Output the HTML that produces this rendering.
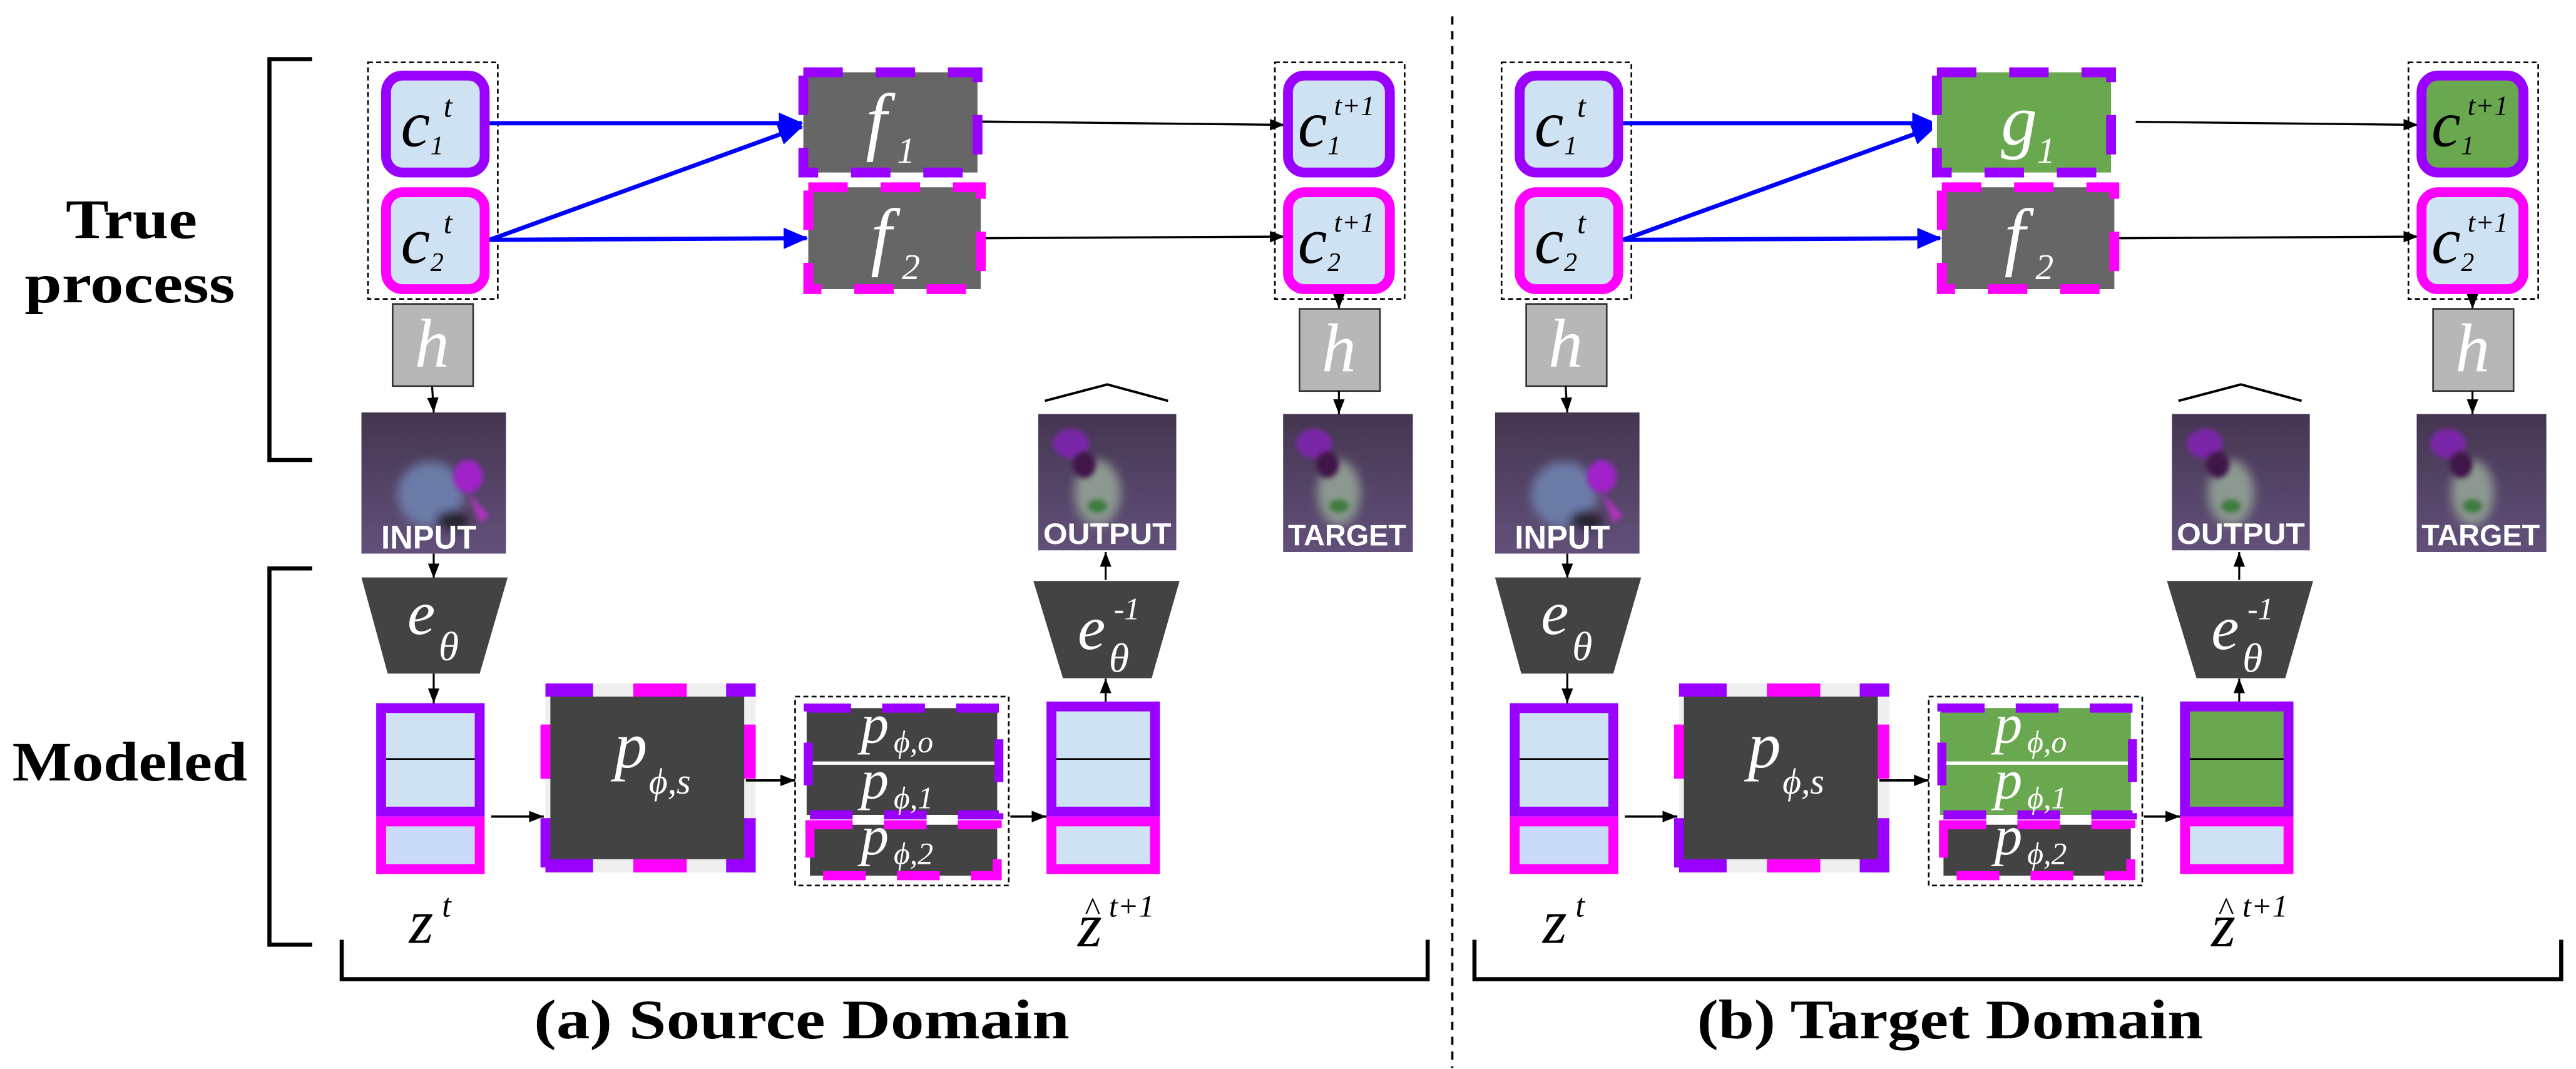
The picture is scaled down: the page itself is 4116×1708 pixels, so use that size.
<!DOCTYPE html>
<html><head><meta charset="utf-8"><style>
html,body{margin:0;padding:0;background:#fff}
svg{display:block}
.it{font-family:"Liberation Serif",serif;font-style:italic}
.bd{font-family:"Liberation Serif",serif;font-weight:bold}
.lb{font-family:"Liberation Sans",sans-serif;font-weight:bold;fill:#fff}
</style></head><body>
<svg width="4116" height="1708" viewBox="0 0 1568 650.67" preserveAspectRatio="none" xmlns="http://www.w3.org/2000/svg">
<defs>
<marker id="bh" markerUnits="userSpaceOnUse" markerWidth="15" markerHeight="13" refX="14" refY="6.5" orient="auto"><path d="M0,0 L15,6.5 L0,13 z" fill="#0000ff"/></marker>
<marker id="kh" markerUnits="userSpaceOnUse" markerWidth="9" markerHeight="7" refX="9" refY="3.5" orient="auto"><path d="M0,0 L9,3.5 L0,7 z" fill="#000"/></marker>
<filter id="bl" x="-50%" y="-50%" width="200%" height="200%"><feGaussianBlur stdDeviation="3"/></filter>
<filter id="bl2" x="-50%" y="-50%" width="200%" height="200%"><feGaussianBlur stdDeviation="1.5"/></filter>
<linearGradient id="bg" x1="0" y1="0" x2="0" y2="1"><stop offset="0" stop-color="#443650"/><stop offset="1" stop-color="#62507a"/></linearGradient>
<clipPath id="ci"><rect x="220" y="251" width="88" height="86"/></clipPath>
<clipPath id="co"><rect x="632" y="252" width="84" height="83"/></clipPath>
<clipPath id="ct"><rect x="781" y="252" width="79" height="84"/></clipPath>
</defs>

<g id="P">
<!-- c dashed box left -->
<rect x="224" y="38" width="79" height="144" fill="none" stroke="#000" stroke-width="1" stroke-dasharray="3 2"/>
<rect x="235" y="46" width="60" height="59" rx="10" fill="#cfe2f3" stroke="#9900ff" stroke-width="6"/>
<rect x="235" y="117" width="60" height="59" rx="10" fill="#cfe2f3" stroke="#ff00ff" stroke-width="6"/>
<text class="it" x="244" y="89" font-size="40">c</text><text class="it" x="262" y="94" font-size="16">1</text><text class="it" x="270" y="71" font-size="19">t</text>
<text class="it" x="244" y="160" font-size="40">c</text><text class="it" x="262" y="165" font-size="16">2</text><text class="it" x="270" y="142" font-size="19">t</text>

<!-- f boxes -->
<rect x="489" y="44" width="106" height="61" fill="#666666"/>
<rect x="489" y="44" width="106" height="61" fill="none" stroke="#9900ff" stroke-width="6" stroke-dasharray="24 20"/>
<text class="it" x="527" y="89" font-size="46" fill="#fff">f</text><text class="it" x="546" y="99" font-size="22" fill="#fff">1</text>
<rect x="492" y="114" width="105" height="62" fill="#666666"/>
<rect x="492" y="114" width="105" height="62" fill="none" stroke="#ff00ff" stroke-width="6" stroke-dasharray="24 20"/>
<text class="it" x="530" y="159" font-size="46" fill="#fff">f</text><text class="it" x="549" y="170" font-size="22" fill="#fff">2</text>

<!-- blue arrows -->
<line x1="298" y1="75" x2="488" y2="75" stroke="#0000ff" stroke-width="2.6" marker-end="url(#bh)"/>
<line x1="298" y1="146" x2="488" y2="77" stroke="#0000ff" stroke-width="2.6" marker-end="url(#bh)"/>
<line x1="298" y1="146" x2="491" y2="145" stroke="#0000ff" stroke-width="2.6" marker-end="url(#bh)"/>
<!-- black arrows -->
<line x1="598" y1="74" x2="782" y2="76" stroke="#000" stroke-width="1.3" marker-end="url(#kh)"/>
<line x1="600" y1="145" x2="782" y2="144" stroke="#000" stroke-width="1.3" marker-end="url(#kh)"/>

<!-- right c box -->
<rect x="776" y="38" width="79" height="144" fill="none" stroke="#000" stroke-width="1" stroke-dasharray="3 2"/>
<rect x="784" y="46" width="62" height="59" rx="10" fill="#cfe2f3" stroke="#9900ff" stroke-width="6"/>
<rect x="784" y="117" width="62" height="59" rx="10" fill="#cfe2f3" stroke="#ff00ff" stroke-width="6"/>
<text class="it" x="790" y="89" font-size="40">c</text><text class="it" x="808" y="94" font-size="16">1</text><text class="it" x="812" y="70" font-size="17">t+1</text>
<text class="it" x="790" y="160" font-size="40">c</text><text class="it" x="808" y="165" font-size="16">2</text><text class="it" x="812" y="141" font-size="17">t+1</text>

<!-- h boxes -->
<rect x="239" y="185" width="49" height="50" fill="#b7b7b7" stroke="#333" stroke-width="1"/>
<text class="it" x="263" y="223" font-size="42" fill="#fff" text-anchor="middle">h</text>
<line x1="263" y1="235" x2="264" y2="251" stroke="#000" stroke-width="1.2" marker-end="url(#kh)"/>
<line x1="815" y1="180" x2="815" y2="188" stroke="#000" stroke-width="1.2" marker-end="url(#kh)"/>
<rect x="791" y="188" width="49" height="50" fill="#b7b7b7" stroke="#333" stroke-width="1"/>
<text class="it" x="815" y="226" font-size="42" fill="#fff" text-anchor="middle">h</text>
<line x1="815" y1="238" x2="815" y2="252" stroke="#000" stroke-width="1.2" marker-end="url(#kh)"/>

<!-- input image -->
<g clip-path="url(#ci)">
<rect x="220" y="251" width="88" height="86" fill="url(#bg)"/>
<ellipse cx="262" cy="301" rx="20" ry="20" fill="#6c7ca8" filter="url(#bl)"/>
<ellipse cx="276" cy="317" rx="10" ry="5" fill="#221a2a" filter="url(#bl)"/>
<ellipse cx="285" cy="290" rx="9" ry="10" fill="#a020c8" filter="url(#bl2)"/>
<path d="M285,300 L298,314 L292,318 Z" fill="#b030c0" filter="url(#bl2)"/>
</g>
<text class="lb" x="261" y="334" font-size="20" text-anchor="middle" textLength="58" lengthAdjust="spacingAndGlyphs">INPUT</text>

<!-- output image -->
<g clip-path="url(#co)">
<rect x="632" y="252" width="84" height="83" fill="url(#bg)"/>
<ellipse cx="668" cy="300" rx="14" ry="20" fill="#8c9890" filter="url(#bl)"/>
<ellipse cx="668" cy="308" rx="6" ry="4" fill="#3d7a3d" filter="url(#bl2)"/>
<ellipse cx="652" cy="270" rx="11" ry="9" fill="#7a28a8" filter="url(#bl2)"/>
<ellipse cx="660" cy="283" rx="7" ry="8" fill="#40184a" filter="url(#bl2)"/>
</g>
<text class="lb" x="674" y="331" font-size="18" text-anchor="middle" textLength="78" lengthAdjust="spacingAndGlyphs">OUTPUT</text>
<polyline points="636,244 674,234 711,244" fill="none" stroke="#000" stroke-width="1.5"/>

<!-- target image -->
<g clip-path="url(#ct)">
<rect x="781" y="252" width="79" height="84" fill="url(#bg)"/>
<ellipse cx="815" cy="300" rx="13" ry="20" fill="#8c9890" filter="url(#bl)"/>
<ellipse cx="815" cy="308" rx="6" ry="4" fill="#3d7a3d" filter="url(#bl2)"/>
<ellipse cx="800" cy="270" rx="11" ry="9" fill="#7a28a8" filter="url(#bl2)"/>
<ellipse cx="808" cy="283" rx="7" ry="8" fill="#40184a" filter="url(#bl2)"/>
</g>
<text class="lb" x="820" y="332" font-size="18" text-anchor="middle" textLength="72" lengthAdjust="spacingAndGlyphs">TARGET</text>

<!-- encoder -->
<line x1="264" y1="337" x2="264" y2="352" stroke="#000" stroke-width="1.2" marker-end="url(#kh)"/>
<polygon points="220,351.5 309,351.5 292,410 236,410" fill="#434343"/>
<text class="it" x="248" y="386" font-size="38" fill="#fff">e</text><text class="it" x="267" y="402" font-size="25" fill="#fff">θ</text>
<line x1="264" y1="410" x2="264" y2="428" stroke="#000" stroke-width="1.2" marker-end="url(#kh)"/>

<!-- z box -->
<rect x="232" y="431" width="60" height="63" fill="#cfe2f3" stroke="#9900ff" stroke-width="6"/>
<line x1="235" y1="462" x2="289" y2="462" stroke="#000" stroke-width="1"/>
<rect x="232" y="500" width="60" height="29" fill="#c9daf8" stroke="#ff00ff" stroke-width="6"/>
<text class="it" x="249" y="574" font-size="38">z</text><text class="it" x="269" y="558" font-size="20">t</text>

<line x1="299" y1="497" x2="331" y2="497" stroke="#000" stroke-width="1.4" marker-end="url(#kh)"/>

<!-- p phi s -->
<g transform="translate(332,416)">
<rect x="0" y="0" width="128" height="115" fill="#efefef"/>
<rect x="0" y="0" width="29" height="8" fill="#9900ff"/><rect x="53.5" y="0" width="32.5" height="8" fill="#ff00ff"/><rect x="110" y="0" width="18" height="8" fill="#9900ff"/>
<rect x="0" y="107" width="29" height="8" fill="#9900ff"/><rect x="53.5" y="107" width="32.5" height="8" fill="#ff00ff"/><rect x="110" y="107" width="18" height="8" fill="#9900ff"/>
<rect x="-3" y="25" width="8" height="33" fill="#ff00ff"/><rect x="-3" y="82" width="8" height="30" fill="#9900ff"/>
<rect x="120" y="25" width="8" height="33" fill="#ff00ff"/><rect x="120" y="82" width="8" height="33" fill="#9900ff"/>
<rect x="3" y="8" width="118" height="99" fill="#434343"/>
</g>
<text class="it" x="374" y="467" font-size="40" fill="#fff">p</text><text class="it" x="395" y="483" font-size="22" fill="#fff">ϕ,s</text>
<line x1="454" y1="475" x2="484" y2="475" stroke="#000" stroke-width="1.4" marker-end="url(#kh)"/>

<!-- group -->
<rect x="484" y="424" width="130" height="115" fill="none" stroke="#000" stroke-width="1" stroke-dasharray="3 2"/>
<rect x="491" y="431" width="116" height="65" fill="#434343"/>
<line x1="491" y1="464.5" x2="607" y2="464.5" stroke="#fff" stroke-width="2"/>
<rect x="493" y="502" width="114" height="31" fill="#434343"/>
<rect x="493" y="502" width="114" height="31" fill="none" stroke="#ff00ff" stroke-width="5.5" stroke-dasharray="26 19"/>
<rect x="492" y="431" width="116" height="65" fill="none" stroke="#9900ff" stroke-width="5.5" stroke-dasharray="26 19"/>
<text class="it" x="524" y="452" font-size="34" fill="#fff">p</text><text class="it" x="544" y="458" font-size="19" fill="#fff">ϕ,o</text>
<text class="it" x="524" y="486" font-size="34" fill="#fff">p</text><text class="it" x="544" y="492" font-size="19" fill="#fff">ϕ,1</text>
<text class="it" x="524" y="520" font-size="34" fill="#fff">p</text><text class="it" x="544" y="526" font-size="19" fill="#fff">ϕ,2</text>
<line x1="615" y1="497" x2="637" y2="497" stroke="#000" stroke-width="1.4" marker-end="url(#kh)"/>

<!-- zhat box -->
<rect x="640" y="430" width="63" height="64" fill="#cfe2f3" stroke="#9900ff" stroke-width="6"/>
<line x1="643" y1="462" x2="700" y2="462" stroke="#000" stroke-width="1"/>
<rect x="640" y="500" width="63" height="29" fill="#cfe2f3" stroke="#ff00ff" stroke-width="6"/>
<text class="it" x="656" y="576" font-size="38">z</text><text class="it" x="660" y="560" font-size="20">^</text><text class="it" x="675" y="558" font-size="19">t+1</text>

<!-- decoder -->
<line x1="673" y1="427" x2="673" y2="413" stroke="#000" stroke-width="1.2" marker-end="url(#kh)"/>
<polygon points="629,353.6 718,353.6 701,412.8 647,412.8" fill="#434343"/>
<text class="it" x="656" y="395" font-size="38" fill="#fff">e</text><text class="it" x="678" y="377" font-size="19" fill="#fff">-1</text><text class="it" x="675" y="409" font-size="25" fill="#fff">θ</text>
<line x1="673" y1="353" x2="673" y2="336" stroke="#000" stroke-width="1.2" marker-end="url(#kh)"/>
</g>

<use href="#P" transform="translate(690,0)"/>

<!-- right panel overrides -->
<rect x="1176" y="38" width="124" height="72" fill="#fff"/>
<rect x="1179" y="44" width="106" height="61" fill="#6aa84f"/>
<rect x="1179" y="44" width="106" height="61" fill="none" stroke="#9900ff" stroke-width="6" stroke-dasharray="24 20"/>
<text class="it" x="1218" y="88" font-size="44" fill="#fff">g</text><text class="it" x="1240" y="99" font-size="22" fill="#fff">1</text>

<rect x="1474" y="46" width="62" height="59" rx="10" fill="#6aa84f" stroke="#9900ff" stroke-width="6"/>
<text class="it" x="1480" y="89" font-size="40">c</text><text class="it" x="1498" y="94" font-size="16">1</text><text class="it" x="1502" y="70" font-size="17">t+1</text>

<rect x="1181" y="431" width="116" height="65" fill="#6aa84f"/>
<line x1="1181" y1="464.5" x2="1297" y2="464.5" stroke="#fff" stroke-width="2"/>
<rect x="1182" y="431" width="116" height="65" fill="none" stroke="#9900ff" stroke-width="5.5" stroke-dasharray="26 19"/>
<text class="it" x="1214" y="452" font-size="34" fill="#fff">p</text><text class="it" x="1234" y="458" font-size="19" fill="#fff">ϕ,o</text>
<text class="it" x="1214" y="486" font-size="34" fill="#fff">p</text><text class="it" x="1234" y="492" font-size="19" fill="#fff">ϕ,1</text>

<rect x="1330" y="430" width="63" height="64" fill="#6aa84f" stroke="#9900ff" stroke-width="6"/>
<line x1="1333" y1="462" x2="1390" y2="462" stroke="#000" stroke-width="1"/>

<!-- brackets & labels -->
<path d="M190,36 H164 V280 H190" fill="none" stroke="#000" stroke-width="2.5"/>
<path d="M190,346 H164 V575 H190" fill="none" stroke="#000" stroke-width="2.5"/>
<path d="M208,572 V596 H869 V572" fill="none" stroke="#000" stroke-width="2.5"/>
<path d="M897.5,572 V596 H1559 V572" fill="none" stroke="#000" stroke-width="2.5"/>
<line x1="884" y1="10" x2="884" y2="650" stroke="#000" stroke-width="1.4" stroke-dasharray="5 4"/>

<text class="bd" x="80" y="145" font-size="34" text-anchor="middle" textLength="80" lengthAdjust="spacingAndGlyphs">True</text>
<text class="bd" x="79" y="184" font-size="34" text-anchor="middle" textLength="128" lengthAdjust="spacingAndGlyphs">process</text>
<text class="bd" x="79" y="475" font-size="34" text-anchor="middle" textLength="143" lengthAdjust="spacingAndGlyphs">Modeled</text>
<text class="bd" x="325" y="632" font-size="34" textLength="326" lengthAdjust="spacingAndGlyphs">(a)  Source Domain</text>
<text class="bd" x="1033" y="632" font-size="34" textLength="308" lengthAdjust="spacingAndGlyphs">(b) Target Domain</text>
</svg>
</body></html>
